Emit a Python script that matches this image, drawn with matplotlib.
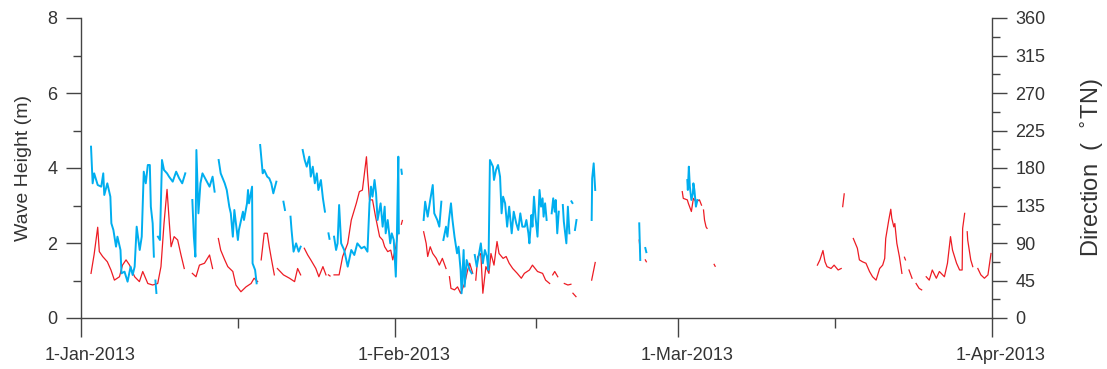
import matplotlib
matplotlib.use("Agg")
import matplotlib.pyplot as plt
import matplotlib.dates as mdates
import matplotlib.transforms as mtransforms
from matplotlib.ticker import FixedLocator
import numpy as np

nan = np.nan

# wave height (m), days since 1-Jan-2013; nan marks a gap in the record
hs_day = [0.99, 1.3, 1.65, 1.81, 2.14, 2.6, 2.96, 3.3, 3.8, 4.1, 4.45, 4.8, 5.3, 5.77, 6.1, 6.6, 7.08, 7.58, 7.9, 8.2, 8.5, 8.73, 8.9, 9.2, 9.55, 9.88, 10.2, nan,
          11.0, 11.36, 11.7, 12.2, 12.7, 13.0, nan,
          13.57, 13.8, 14.2, 14.5, 15.0, 15.3, 15.8, 16.3, 16.8, 17.1, 17.45, nan,
          17.8, 18.1, 18.4, 18.6, 18.8, 19.1, nan,
          19.4, 20.0, 20.6, 21.1, 21.4, 21.7, nan,
          22.06, 22.4, 22.7, 23.2, 23.5, 23.9, 24.2, nan,
          24.45, 24.6, nan,
          25.0, 25.5, 25.85, 26.35, 26.7, 27.2, 27.5, 27.8, 28.2, 28.3, 28.5, 28.8, 29.1, 29.5, 29.8, 30.0, 30.3, 30.6, 30.8, 31.1, 31.35, nan,
          31.65, 31.75, nan,
          33.85, 34.1, 34.25, 34.5, 34.75, 35.1, 35.4, 35.7, 36.06, nan,
          36.4, 36.55, 36.9, 37.2, 37.5, 37.9, 38.2, 38.4, 38.7, nan,
          39.0, 39.2, 39.5, 39.7, 40.0, 40.3, 40.5, 40.8, 41.1, 41.3, 41.7, 42.0, 42.3, 42.65, 43.1, 43.5, 43.8, 44.3, 44.6, 45.1, 45.6, 45.9, 46.3, nan,
          46.6, 46.8, 47.1, nan,
          47.75, 48.1, 48.4, nan,
          48.6, 48.9, nan,
          50.45, 50.8, nan,
          55.15, 55.25, nan,
          55.75, 55.85, nan,
          59.4, 59.5, 59.9, 60.0, 60.3, 60.5, 60.75, 61.1, 61.3, nan,
          61.5, 61.6, 61.75, 61.85, nan,
          62.55, 62.65, nan,
          72.75, 73.0, 73.3, 73.5, 73.7, 74.1, 74.4, 74.8, 75.1, nan,
          75.25, 75.4, nan,
          76.3, 76.7, 76.9, 77.2, 77.55, 77.9, 78.2, 78.55, 78.9, 79.2, 79.4, 79.5, 79.8, 80.0, 80.1, 80.3, 80.4, 80.6, 80.85, 81.1, nan,
          81.35, 81.45, nan,
          81.8, 82.1, nan,
          82.5, 82.8, 83.05, nan,
          83.5, 83.8, 84.1, 84.5, 84.8, 85.3, 85.6, 85.9, 86.1, 86.5, 86.8, 87.05, 87.1, 87.3, nan,
          87.55, 87.6, 87.9, 88.1, nan,
          88.6, 88.9, 89.25, 89.6, 89.9]
hs_m = [1.19, 1.7, 2.42, 1.77, 1.64, 1.5, 1.28, 1.01, 1.1, 1.41, 1.55, 1.41, 1.1, 0.97, 1.24, 0.92, 0.88, 0.92, 1.37, 2.52, 3.43, 2.52, 1.9, 2.17, 2.08, 1.68, 1.32, nan,
        1.19, 1.1, 1.41, 1.46, 1.68, 1.32, nan,
        2.12, 1.81, 1.55, 1.37, 1.24, 0.88, 0.7, 0.83, 0.92, 1.06, 0.97, nan,
        1.55, 2.26, 2.26, 1.9, 1.59, 1.15, nan,
        1.32, 1.15, 1.06, 0.97, 1.32, 1.15, nan,
        1.86, 1.68, 1.55, 1.32, 1.1, 1.37, 1.15, nan,
        1.15, 1.12, nan,
        1.15, 1.15, 1.64, 1.99, 2.61, 3.06, 3.37, 3.41, 4.3, 3.86, 3.15, 3.15, 2.7, 2.17, 2.08, 1.9, 1.77, 1.81, 1.55, 1.9, 2.35, nan,
        2.5, 2.6, nan,
        2.3, 1.99, 1.64, 1.9, 1.72, 1.59, 1.41, 1.59, 1.32, nan,
        1.1, 0.79, 0.75, 0.83, 0.66, 0.92, 1.28, 1.46, 1.19, nan,
        1.01, 1.64, 1.72, 0.66, 1.37, 1.19, 1.72, 1.41, 2.04, 1.72, 1.59, 1.64, 1.46, 1.32, 1.19, 1.06, 1.19, 1.28, 1.41, 1.24, 1.19, 1.01, 0.92, nan,
        1.15, 1.24, 1.1, nan,
        0.92, 0.88, 0.9, nan,
        0.66, 0.57, nan,
        1.01, 1.48, nan,
        2.08, 1.77, nan,
        1.55, 1.5, nan,
        3.37, 3.19, 3.15, 3.06, 2.84, 3.19, 3.1, 3.15, 3.01, nan,
        2.88, 2.61, 2.43, 2.39, nan,
        1.43, 1.38, nan,
        1.41, 1.55, 1.8, 1.5, 1.37, 1.32, 1.41, 1.28, 1.32, nan,
        2.97, 3.31, nan,
        2.12, 1.86, 1.55, 1.5, 1.46, 1.24, 1.1, 1.01, 1.32, 1.41, 1.59, 2.12, 2.61, 2.9, 2.66, 2.43, 2.52, 1.99, 1.64, 1.19, nan,
        1.62, 1.55, nan,
        1.28, 1.06, nan,
        0.92, 0.79, 0.75, nan,
        1.1, 1.01, 1.28, 1.06, 1.24, 1.1, 1.46, 2.17, 1.81, 1.46, 1.28, 1.28, 2.39, 2.79, nan,
        2.3, 2.08, 1.55, 1.37, nan,
        1.32, 1.15, 1.06, 1.15, 1.72]

# wave direction (deg TN)
dir_day = [0.99, 1.15, 1.3, 1.65, 2.0, 2.2, 2.3, 2.6, 2.9, 3.0, 3.2, 3.46, 3.6, 3.9, 4.0, 4.3, 4.6, 4.9, 5.1, 5.3, 5.5, 5.8, 6.0, 6.2, 6.4, 6.6, 6.8, 6.9, 7.08, 7.2, nan,
           7.35, 7.45, nan,
           7.6, 7.8, 8.0, 8.2, 8.5, 8.7, 9.06, 9.4, 9.7, 10.0, 10.3, nan,
           11.0, 11.15, 11.3, 11.4, 11.6, 11.8, 12.0, 12.35, 12.7, 13.0, 13.2, nan,
           13.6, 13.8, 14.2, 14.4, 14.65, 14.8, 15.0, 15.15, 15.5, 15.6, 16.0, 16.1, 16.4, 16.5, 16.6, 16.9, 16.95, 17.2, 17.35, nan,
           17.7, 17.8, 17.95, 18.1, 18.4, 18.6, 18.8, 19.0, 19.3, nan,
           20.0, 20.15, nan,
           20.7, 20.8, 21.0, 21.25, 21.5, 21.7, nan,
           21.9, 22.1, 22.3, 22.55, 22.7, 22.9, 23.1, 23.3, 23.45, 23.7, 23.9, 24.1, nan,
           24.45, 24.55, nan,
           25.0, 25.2, 25.35, 25.5, 25.7, 26.0, 26.35, 26.7, 27.0, 27.3, 27.7, 28.0, 28.3, 28.5, 28.65, 28.8, 29.0, 29.15, 29.3, 29.6, 29.8, 30.0, 30.1, 30.3, 30.55, 30.7, 30.9, 31.1, 31.2, 31.35, 31.4, nan,
           31.65, 31.7, nan,
           33.85, 34.0, 34.25, 34.5, 34.75, 34.9, 35.2, 35.4, 35.6, nan,
           35.8, 36.06, 36.2, 36.35, 36.55, 36.7, 36.9, 37.15, 37.3, 37.5, 37.6, 37.8, 37.9, 38.1, 38.4, 38.6, nan,
           38.9, 39.1, 39.35, 39.5, 39.7, 39.9, 40.1, 40.25, 40.4, 40.7, 40.8, 41.0, 41.2, 41.4, 41.55, 41.7, 41.9, 42.1, 42.3, 42.55, 42.75, 43.0, 43.2, 43.4, 43.6, 43.85, 44.0, 44.2, 44.3, 44.5, 44.6, 44.75, 44.9, 45.1, 45.3, 45.45, 45.6, 45.7, 45.85, 46.0, nan,
           46.5, 46.65, 46.8, 46.9, 47.05, 47.2, nan,
           47.6, 47.7, 47.95, 48.1, 48.25, nan,
           48.45, 48.55, nan,
           48.8, 48.95, nan,
           50.45, 50.5, 50.65, 50.8, nan,
           55.15, 55.25, nan,
           55.75, 55.85, nan,
           59.9, 59.95, 60.05, 60.15, 60.3, 60.45, 60.5, 60.6, 60.75, 60.9]
dir_deg = [205.6, 161.6, 173.6, 159.6, 157.6, 173.6, 147.6, 161.6, 145.6, 113.6, 105.6, 85.6, 97.6, 81.6, 53.6, 55.6, 43.6, 61.6, 51.6, 61.6, 109.6, 81.6, 97.6, 175.6, 161.6, 183.6, 183.6, 133.6, 113.6, 73.6, nan,
           45.0, 30.0, nan,
           97.6, 93.6, 189.6, 177.6, 173.6, 169.6, 163.6, 175.6, 167.6, 161.6, 173.6, nan,
           141.6, 97.6, 73.6, 201.6, 125.6, 161.6, 173.6, 165.6, 157.6, 169.6, 151.6, nan,
           189.6, 173.6, 161.6, 153.6, 133.6, 125.6, 97.6, 129.6, 93.6, 105.6, 127.6, 117.6, 137.6, 153.6, 137.6, 157.6, 65.6, 57.6, 41.6, nan,
           207.6, 193.6, 173.6, 177.6, 169.6, 167.6, 161.6, 149.6, 163.6, nan,
           139.6, 129.6, nan,
           121.6, 105.6, 79.6, 89.6, 79.6, 85.6, nan,
           201.6, 189.6, 181.6, 193.6, 169.6, 181.6, 161.6, 173.6, 153.6, 165.6, 143.6, 127.6, nan,
           101.6, 95.0, nan,
           97.6, 81.6, 89.6, 135.6, 89.6, 81.6, 61.6, 81.6, 75.6, 89.6, 83.6, 85.6, 79.6, 137.6, 157.6, 145.6, 165.6, 149.6, 117.6, 137.6, 109.6, 133.6, 101.6, 117.6, 89.6, 101.6, 93.6, 49.6, 93.6, 193.6, 101.6, nan,
           178.0, 173.0, nan,
           117.6, 139.6, 121.6, 141.6, 159.6, 125.6, 117.6, 109.6, 139.6, nan,
           93.6, 109.6, 97.6, 117.6, 137.6, 117.6, 97.6, 77.6, 85.6, 57.6, 29.6, 81.6, 37.6, 69.6, 57.6, 53.6, nan,
           75.6, 61.6, 79.6, 89.6, 65.6, 81.6, 73.6, 57.6, 189.6, 181.6, 165.6, 177.6, 183.6, 169.6, 125.6, 145.6, 137.6, 109.6, 133.6, 101.6, 127.6, 113.6, 105.6, 125.6, 109.6, 109.6, 117.6, 101.6, 89.6, 123.6, 109.6, 145.6, 121.6, 97.6, 153.6, 133.6, 143.6, 121.6, 137.6, 117.6, nan,
           125.6, 143.6, 127.6, 141.6, 101.6, 127.6, nan,
           135.6, 115.6, 89.6, 133.6, 101.6, nan,
           140.0, 138.0, nan,
           105.6, 117.6, nan,
           117.6, 167.6, 185.6, 153.6, nan,
           113.6, 69.6, nan,
           84.0, 79.0, nan,
           165.6, 153.6, 181.6, 157.6, 141.6, 149.6, 161.6, 153.6, 133.6, 141.6]

hs_ticks = [0, 2, 4, 6, 8]
dir_ticks = [0, 45, 90, 135, 180, 225, 270, 315, 360]

plt.rcParams['font.family'] = ['Liberation Sans', 'DejaVu Sans']
txt = '#333333'
edge = '#444444'

t0 = mdates.date2num(np.datetime64('2013-01-01'))
t1 = mdates.date2num(np.datetime64('2013-04-01'))
months = [mdates.date2num(np.datetime64(d)) for d in ['2013-01-01', '2013-02-01', '2013-03-01', '2013-04-01']]
mid_months = [(a + b) / 2 for a, b in zip(months[:-1], months[1:])]

fig = plt.figure(figsize=(11.07, 3.69), dpi=100)
ax = fig.add_axes([81 / 1107, 1 - 318 / 369, 911 / 1107, 300 / 369])
ax2 = ax.twinx()

ax.plot(t0 + np.array(hs_day), hs_m, color='#ED1C24', lw=0.9)
ax2.plot(t0 + np.array(dir_day), dir_deg, color='#00AEEF', lw=1.4)

ax.set_xlim(t0, t1)
ax.set_ylim(0, 8)
ax2.set_ylim(0, 360)

ax.xaxis.set_major_locator(FixedLocator(months))
ax.xaxis.set_minor_locator(FixedLocator(mid_months))
ax.xaxis.set_major_formatter(mdates.DateFormatter('%-d-%b-%Y'))
ax.set_yticks(hs_ticks)
ax.set_yticks([1, 3, 5, 7], minor=True)
ax2.set_yticks(dir_ticks)
ax2.set_yticks(np.arange(22.5, 360, 45), minor=True)

for a in (ax, ax2):
    a.spines['top'].set_visible(False)
    for s in a.spines.values():
        s.set_color(edge)
        s.set_linewidth(1.0)
ax.spines['right'].set_visible(False)
ax2.spines['left'].set_visible(False)
ax2.spines['bottom'].set_visible(False)

ax.tick_params(axis='x', which='major', direction='out', length=14, width=1, color=edge,
               labelsize=13, labelcolor=txt, pad=7)
ax.tick_params(axis='x', which='minor', direction='out', length=7, width=1, color=edge)
ax.tick_params(axis='y', which='major', direction='out', length=11, width=1, color=edge,
               labelsize=13, labelcolor=txt, pad=6)
ax.tick_params(axis='y', which='minor', direction='out', length=6, width=1, color=edge)
ax2.tick_params(axis='y', which='major', direction='out', length=11, width=1, color=edge,
                labelsize=13, labelcolor=txt, pad=6)
ax2.tick_params(axis='y', which='minor', direction='out', length=6, width=1, color=edge)

# date labels sit a little right of their ticks in the original
shift = mtransforms.ScaledTranslation(9 / 100, 0, fig.dpi_scale_trans)
for lab in ax.get_xticklabels():
    lab.set_transform(lab.get_transform() + shift)

ax.set_ylabel('Wave Height (m)', fontsize=14, color=txt, labelpad=11)
ax2.set_ylabel('Direction  (  $^{\\circ}$TN)', fontsize=17, color=txt, labelpad=24)

fig.savefig('out.png', dpi=100)
